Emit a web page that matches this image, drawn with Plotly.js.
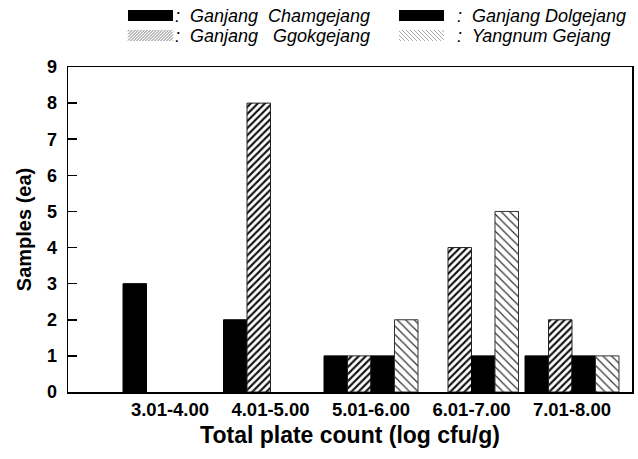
<!DOCTYPE html>
<html>
<head>
<meta charset="utf-8">
<script src="https://cdn.plot.ly/plotly-3.0.1.min.js"></script>
<style>html,body{margin:0;padding:0;background:#fff;}#chart{width:638px;height:459px;}</style>
</head>
<body>
<div id="chart"></div>
<script>
// ---- data ----
const categories = ['3.01-4.00', '4.01-5.00', '5.01-6.00', '6.01-7.00', '7.01-8.00'];
const chamgejang = [3, 2, 1, 0, 1];
const ggokgejang = [0, 8, 1, 4, 2];
const dolgejang  = [0, 0, 1, 1, 1];
const yangnum    = [0, 0, 2, 5, 1];
const seriesNames = ['Ganjang Chamgejang', 'Ganjang Ggokgejang', 'Ganjang Dolgejang', 'Yangnum Gejang'];
const yTicks = [0, 1, 2, 3, 4, 5, 6, 7, 8, 9];

// ---- layout geometry ----
const W = 638, H = 459;
const M = {l: 68, r: 6, t: 67, b: 67};
const PW = W - M.l - M.r, PH = H - M.t - M.b;
const px2x = p => (p - M.l) / PW;
const py2y = p => (H - M.b - p) / PH;
const FONT = 'Arial, Liberation Sans, sans-serif';

// outline hidden on empty (zero) bars
const edge = vals => vals.map(v => (v === 0 ? 0 : 1));

const traces = [
  {type: 'bar', name: seriesNames[0], x: categories, y: chamgejang,
    marker: {color: '#000', line: {color: '#000', width: edge(chamgejang)}}},
  {type: 'bar', name: seriesNames[1], x: categories, y: ggokgejang,
    marker: {color: '#fff', line: {color: '#222', width: edge(ggokgejang)},
      pattern: {shape: '/', fgcolor: '#111', bgcolor: '#fff', size: 5, solidity: 0.42}}},
  {type: 'bar', name: seriesNames[2], x: categories, y: dolgejang,
    marker: {color: '#000', line: {color: '#000', width: edge(dolgejang)}}},
  {type: 'bar', name: seriesNames[3], x: categories, y: yangnum,
    marker: {color: '#fff', line: {color: '#333', width: edge(yangnum)},
      pattern: {shape: '\\', fgcolor: '#333', bgcolor: '#fff', size: 6, solidity: 0.2}}}
];

// ---- custom legend (swatches + text) ----
function hatchPath(X0, Y0, X1, Y1, step, dir) {
  let d = '';
  if (dir === '/') {
    for (let c = X0 + Y0 + step / 2; c < X1 + Y1; c += step) {
      const xa = Math.max(X0, c - Y1), xb = Math.min(X1, c - Y0);
      if (xb <= xa) continue;
      d += 'M' + px2x(xa) + ',' + py2y(c - xa) + 'L' + px2x(xb) + ',' + py2y(c - xb);
    }
  } else {
    for (let c = Y0 - X1 + step / 2; c < Y1 - X0; c += step) {
      const xa = Math.max(X0, Y0 - c), xb = Math.min(X1, Y1 - c);
      if (xb <= xa) continue;
      d += 'M' + px2x(xa) + ',' + py2y(c + xa) + 'L' + px2x(xb) + ',' + py2y(c + xb);
    }
  }
  return d;
}
const legendItems = [
  {label: ':\u00A0 Ganjang\u00A0\u00A0Chamgejang', sx: 128, tx: 173, cy: 16, kind: 'solid'},
  {label: ':\u00A0 Ganjang\u00A0\u00A0\u00A0Ggokgejang', sx: 128, tx: 173, cy: 36, kind: '/'},
  {label: ':\u00A0 Ganjang Dolgejang', sx: 399, tx: 455, cy: 16, kind: 'solid'},
  {label: ':\u00A0 Yangnum Gejang', sx: 399, tx: 455, cy: 36, kind: '\\'}
];
const shapes = [], annotations = [];
legendItems.forEach(it => {
  const X0 = it.sx, X1 = it.sx + 45, Y0 = it.cy - 6, Y1 = it.cy + 5;
  if (it.kind === 'solid') {
    shapes.push({type: 'rect', xref: 'paper', yref: 'paper', x0: px2x(X0), x1: px2x(X1), y0: py2y(Y1), y1: py2y(Y0),
      fillcolor: '#000', line: {width: 0}});
  } else {
    shapes.push({type: 'path', xref: 'paper', yref: 'paper', path: hatchPath(X0, Y0, X1, Y1, it.kind === '/' ? 3 : 4, it.kind),
      line: {color: it.kind === '/' ? '#777' : '#aaa', width: 1}});
  }
  annotations.push({xref: 'paper', yref: 'paper', x: px2x(it.tx), y: py2y(it.cy), xanchor: 'left', yanchor: 'middle',
    showarrow: false, text: '<i>' + it.label + '</i>', font: {family: FONT, size: 18, color: '#000'}});
});

const layout = {
  width: W, height: H,
  margin: M,
  paper_bgcolor: '#fff', plot_bgcolor: '#fff',
  showlegend: false,
  barmode: 'group', bargap: 0.065, bargroupgap: 0,
  font: {family: FONT, color: '#000'},
  xaxis: {
    type: 'category', range: [-1.015, 4.597], fixedrange: true,
    showline: true, linecolor: '#000', linewidth: 1.5, mirror: true,
    ticks: '', showgrid: false, zeroline: false,
    tickfont: {size: 18.5, weight: 'bold'},
    title: {text: '<b>Total plate count (log cfu/g)</b>', font: {size: 23}, standoff: 8}
  },
  yaxis: {
    range: [0, 9], tickvals: yTicks, ticktext: yTicks.map(String),
    showline: true, linecolor: '#000', linewidth: 1.5, mirror: true,
    ticks: 'inside', ticklen: 9, tickwidth: 1.5, tickcolor: '#000',
    showgrid: false, zeroline: false, ticklabelstandoff: 6,
    tickfont: {size: 18, weight: 'bold'},
    title: {text: '<b>Samples (ea)</b>', font: {size: 20}, standoff: 10}
  },
  shapes: shapes,
  annotations: annotations
};

Plotly.newPlot('chart', traces, layout, {displayModeBar: false, staticPlot: true});
</script>
</body>
</html>
